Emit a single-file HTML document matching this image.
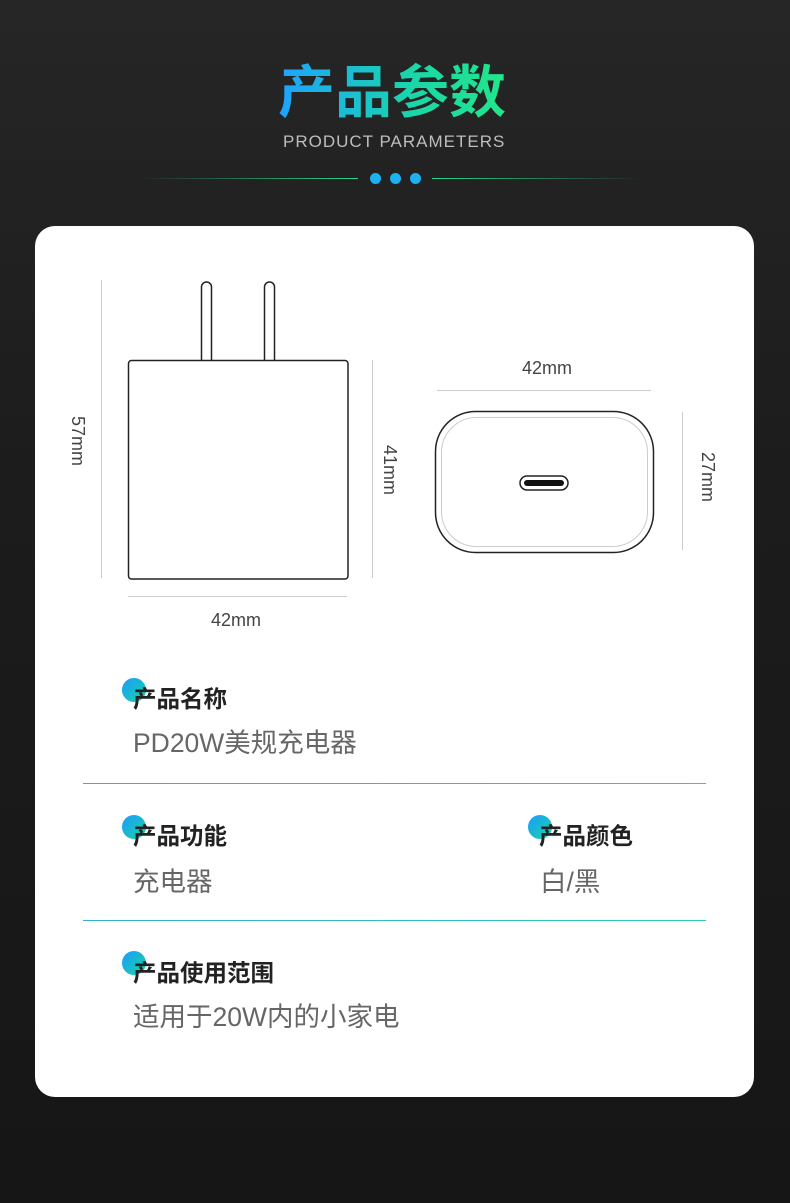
<!DOCTYPE html>
<html><head><meta charset="utf-8"><style>
*{margin:0;padding:0}
body{width:790px;height:1203px;background:linear-gradient(180deg,#262626 0%,#1c1c1c 40%,#161616 100%);position:relative;overflow:hidden;font-family:"Liberation Sans","Noto Sans CJK SC",sans-serif}
.t{position:absolute;white-space:nowrap}
.card{position:absolute;left:35px;top:226px;width:719px;height:871px;background:#fff;border-radius:20px}
.h{position:absolute;font-size:23.5px;font-weight:bold;color:#222;white-space:nowrap}
.dot{position:absolute;width:24px;height:24px;border-radius:50%;background:linear-gradient(135deg,#1a9bff,#18d6a0)}
.v{position:absolute;font-size:26.5px;color:#666;white-space:nowrap}
.ln{position:absolute;left:83px;width:623px;height:1px;background:linear-gradient(90deg,#37b0d0,#2fc8b0)}
</style></head><body>
<div class="t" style="left:278px;top:55px;font-size:57px;font-weight:bold;background:linear-gradient(90deg,#1ea2ff,#1ad7a8 60%,#22e68a);-webkit-background-clip:text;background-clip:text;color:transparent;line-height:76px">产品参数</div>
<div class="t" style="left:283px;top:132px;font-size:17px;letter-spacing:1px;color:#bdbdbd">PRODUCT PARAMETERS</div>
<div style="position:absolute;left:140px;top:178px;width:218px;height:1px;background:linear-gradient(90deg,rgba(40,220,140,0),#28d88c)"></div>
<div style="position:absolute;left:432px;top:178px;width:210px;height:1px;background:linear-gradient(90deg,#28d88c,rgba(40,220,140,0))"></div>
<div style="position:absolute;left:370px;top:173px;width:11px;height:11px;border-radius:50%;background:#1cb2f0"></div>
<div style="position:absolute;left:390px;top:173px;width:11px;height:11px;border-radius:50%;background:#1cb2f0"></div>
<div style="position:absolute;left:410px;top:173px;width:11px;height:11px;border-radius:50%;background:#1cb2f0"></div>
<div class="card"></div>
<svg style="position:absolute;left:0;top:0" width="790" height="1203">
<g stroke="#ccc" stroke-width="1">
<line x1="101.5" y1="280" x2="101.5" y2="578"/>
<line x1="372.5" y1="360" x2="372.5" y2="578"/>
<line x1="128" y1="596.5" x2="347" y2="596.5"/>
<line x1="437" y1="390.5" x2="651" y2="390.5"/>
<line x1="682.5" y1="412" x2="682.5" y2="550"/>
</g>
<g fill="#fff" stroke="#222" stroke-width="1.5">
<path d="M201.5 360 V287 a5 5 0 0 1 10 0 V360"/>
<path d="M264.5 360 V287 a5 5 0 0 1 10 0 V360"/>
<rect x="128.5" y="360.5" width="219.5" height="218.5" rx="3"/>
<rect x="435.5" y="411.5" width="218" height="141" rx="40"/>
</g>
<rect x="441.5" y="417.5" width="206" height="129" rx="35" fill="none" stroke="#ccc" stroke-width="1"/>
<rect x="520" y="476" width="48" height="14" rx="7" fill="#fff" stroke="#222" stroke-width="1.5"/>
<rect x="524" y="480" width="40" height="6" rx="3" fill="#111"/>
<g font-family="Liberation Sans,sans-serif" font-size="18" fill="#444">
<text x="236" y="626" text-anchor="middle">42mm</text>
<text x="547" y="374" text-anchor="middle">42mm</text>
<text transform="translate(72,441) rotate(90)" text-anchor="middle">57mm</text>
<text transform="translate(384,470) rotate(90)" text-anchor="middle">41mm</text>
<text transform="translate(702,477) rotate(90)" text-anchor="middle">27mm</text>
</g>
</svg>
<div class="dot" style="left:122px;top:678px"></div><div class="h" style="left:133px;top:680px">产品名称</div>
<div class="v" style="left:133px;top:721px">PD20W美规充电器</div>
<div class="ln" style="top:783px"></div>
<div class="dot" style="left:122px;top:815px"></div><div class="h" style="left:133px;top:817px">产品功能</div>
<div class="v" style="left:133px;top:860px">充电器</div>
<div class="dot" style="left:528px;top:815px"></div><div class="h" style="left:539px;top:817px">产品颜色</div>
<div class="v" style="left:540px;top:860px">白/黑</div>
<div class="ln" style="top:920px"></div>
<div class="dot" style="left:122px;top:951px"></div><div class="h" style="left:133px;top:954px">产品使用范围</div>
<div class="v" style="left:133px;top:995px">适用于20W内的小家电</div>
</body></html>
